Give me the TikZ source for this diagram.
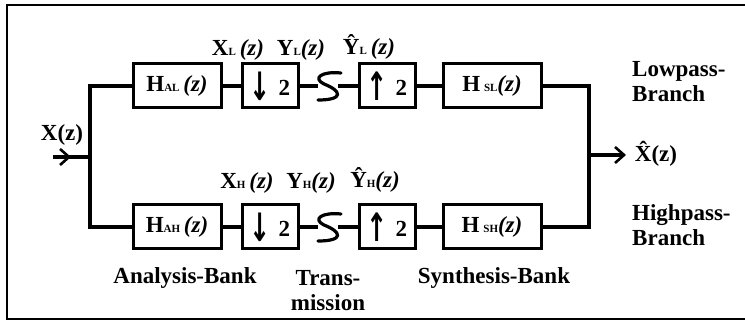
\documentclass[tikz,border=0pt]{standalone}
\usepackage{fontspec}
\usepackage{graphicx}
\setmainfont{Liberation Serif}
\newfontfamily\arrowfont{DejaVu Sans}
\usetikzlibrary{arrows.meta}
\newcommand\sbs[1]{{\fontsize{11}{11}\selectfont #1}}
\newcommand\zz{\textit{(z)}}
\newcommand\dnarrow{\raisebox{-5pt}{\scalebox{1.1}[1.7]{\arrowfont\bfseries ↓}}}
\newcommand\uparrowglyph{\raisebox{-5pt}{\scalebox{1.1}[1.7]{\arrowfont\bfseries ↑}}}
\begin{document}
\begin{tikzpicture}[x=1pt,y=-1pt,
  every node/.style={font=\fontsize{23}{25}\selectfont\bfseries, inner sep=0pt},
  blk/.style={draw, line width=3pt, minimum height=44pt, inner sep=0pt},
  wide/.style={blk, minimum width=88pt},
  wider/.style={blk, minimum width=98pt},
  small/.style={blk, minimum width=56pt},
  wire/.style={line width=3.2pt},
  lbl/.style={align=center},
  lbll/.style={align=left, anchor=west}]
\useasboundingbox (0,0) rectangle (745,323);
% frame
\draw[line width=2pt] (745,5) -- (7,5) -- (7,319) -- (745,319);

% upper branch
\node[wide]  (HAL) at (177,86) {H\sbs{AL}\,\zz};
\node[small] (DL)  at (270,86) {\dnarrow\,\,2};
\node[small] (UL)  at (387,86) {\uparrowglyph\,\,2};
\node[wider] (HSL) at (492,86) {H\,\sbs{SL}\zz};
% lower branch
\node[wide]  (HAH) at (177,227) {H\sbs{AH}\,\zz};
\node[small] (DH)  at (270,227) {\dnarrow\,\,2};
\node[small] (UH)  at (387,227) {\uparrowglyph\,\,2};
\node[wider] (HSH) at (492,227) {H\,\sbs{SH}\zz};

% coordinates
\coordinate (in) at (53,157);
\coordinate (tipin) at (71,157);
\coordinate (jin) at (90,157);
\coordinate (jout) at (589,155);
\coordinate (out) at (626,155);
\coordinate (SLa) at (318,86);
\coordinate (SLb) at (338,86);
\coordinate (SHa) at (318,227);
\coordinate (SHb) at (338,227);

% wires
\draw[wire] (in) -- (jin);
\draw[wire,-{Straight Barb[length=9pt,width=16pt,line width=2.6pt]}] (in) -- (tipin);
\draw[wire] (HAL.west) -| (jin) |- (HAH.west);
\draw[wire] (HAL) -- (DL);
\draw[wire] (HAH) -- (DH);
\draw[wire] (DL.east) -- (SLa);
\draw[wire] (DH.east) -- (SHa);
\draw[wire] (SLb) -- (UL.west);
\draw[wire] (SHb) -- (UH.west);
\draw[wire] (UL) -- (HSL);
\draw[wire] (UH) -- (HSH);
\draw[wire] (HSL.east) -| (jout) |- (HSH.east);
\draw[wire,-{Straight Barb[length=9pt,width=16pt,line width=2.6pt]}] (jout) -- (out);

% transmission squiggles
\draw[wire,line cap=round] (341,73) .. controls (322,71) and (312,78) .. (324,84)
   .. controls (342,91) and (344,100) .. (318,100);
\draw[wire,line cap=round] (341,214) .. controls (322,212) and (312,219) .. (324,225)
   .. controls (342,232) and (344,241) .. (318,241);

% signal labels
\node (lx)  at (62,135) {X(z)};
\node (lxl) at (238,50) {X\sbs{L}\,\zz};
\node (lyl) at (301,50) {Y\sbs{L}\zz};
\node (lyhl) at (369,47) {Ŷ\sbs{L}\,\zz};
\node (lxh) at (247,183) {X\sbs{H}\,\zz};
\node (lyh) at (311,183) {Y\sbs{H}\zz};
\node (lyhh) at (375,180) {Ŷ\sbs{H}\zz};
\node (lxo) at (656,154) {\^{X}(z)};

% branch and bank labels
\node[lbll] (lp) at (632,82) {Lowpass-\\Branch};
\node[lbll] (hp) at (632,225) {Highpass-\\Branch};
\node (ab) at (185,278) {Analysis-Bank};
\node[lbl] (tr) at (328,291) {Trans-\\mission};
\node (sb) at (494,278) {Synthesis-Bank};
\end{tikzpicture}
\end{document}
